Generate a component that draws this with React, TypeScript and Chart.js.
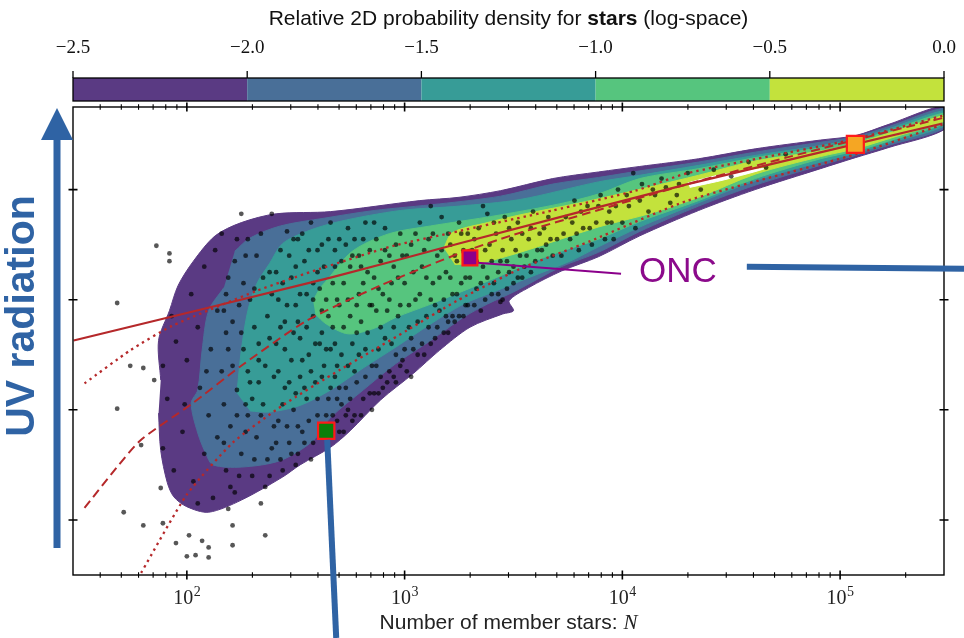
import React, { useEffect, useRef } from "react";
import { Chart, registerables } from "chart.js";

Chart.register(...registerables);

// Axis ranges: x = number of member stars N (log axis), y = UV radiation (unlabelled, log units)
const xMin = 30;
const xMax = 3e5;
const yMin = -0.5;
const yMax = 3.75;
const xMajorTicks = [1e2, 1e3, 1e4, 1e5];
const xTickExponents = ["2", "3", "4", "5"];
const yMajorTicks = [0, 1, 2, 3];

// Colour bar (relative 2D probability density, log-space)
const levelValues = [-2.5, -2.0, -1.5, -1.0, -0.5, 0.0];
const levelLabels = ["\u22122.5", "\u22122.0", "\u22121.5", "\u22121.0", "\u22120.5", "0.0"];
const levelColors = ["#5a3a83", "#496f98", "#379c97", "#56c57e", "#c3e23c"];

// Filled density contours, points as [log10 N, y]
const contourMinus25: [number, number][] = [
  [1.88, 1.27], [1.87, 1.63], [1.92, 1.9], [1.96, 2.13], [2.03, 2.35], [2.13, 2.58], [2.25, 2.7],
  [2.41, 2.78], [2.66, 2.8], [3.07, 2.9], [3.25, 2.93], [3.44, 2.99], [3.68, 3.1], [3.89, 3.16],
  [4.08, 3.21], [4.35, 3.28], [4.61, 3.37], [4.91, 3.45], [5.07, 3.49], [5.22, 3.59], [5.49, 3.76],
  [5.49, 3.56], [5.22, 3.38], [5.07, 3.29], [4.91, 3.19], [4.61, 3.0], [4.35, 2.81], [4.08, 2.58],
  [3.89, 2.39], [3.72, 2.26], [3.57, 2.11], [3.48, 1.99], [3.5, 1.9], [3.45, 1.87], [3.3, 1.75],
  [3.16, 1.54], [3.04, 1.33], [2.89, 1.09], [2.75, 0.81], [2.66, 0.66], [2.52, 0.5], [2.44, 0.39],
  [2.25, 0.18], [2.1, 0.07], [2.0, 0.12], [1.94, 0.21], [1.91, 0.34], [1.88, 0.63], [1.87, 0.97],
];
const contourMinus20: [number, number][] = [
  [2.22, 2.44], [2.29, 2.56], [2.43, 2.67], [2.63, 2.74], [2.86, 2.81], [3.16, 2.87], [3.44, 2.94],
  [3.68, 3.05], [3.89, 3.11], [4.08, 3.17], [4.35, 3.25], [4.61, 3.34], [4.91, 3.43], [5.07, 3.48],
  [5.22, 3.57], [5.49, 3.74], [5.49, 3.57], [5.22, 3.4], [5.07, 3.31], [4.91, 3.22], [4.61, 3.04],
  [4.35, 2.85], [4.08, 2.62], [3.89, 2.43], [3.72, 2.3], [3.51, 2.08], [3.38, 1.96], [3.27, 1.84],
  [3.12, 1.63], [2.96, 1.42], [2.81, 1.18], [2.66, 0.93], [2.58, 0.72], [2.43, 0.54], [2.25, 0.48],
  [2.12, 0.5], [2.09, 0.59], [2.05, 0.79], [2.02, 1.06], [2.05, 1.18], [2.07, 1.54], [2.1, 1.9],
  [2.17, 2.11],
];
const contourMinus15: [number, number][] = [
  [2.23, 1.15], [2.25, 1.54], [2.28, 1.9], [2.32, 2.14], [2.38, 2.33], [2.44, 2.51], [2.55, 2.62],
  [2.7, 2.71], [2.98, 2.81], [3.25, 2.85], [3.53, 2.91], [3.89, 3.07], [4.08, 3.13], [4.35, 3.22],
  [4.61, 3.31], [4.91, 3.4], [5.07, 3.46], [5.22, 3.55], [5.49, 3.72], [5.49, 3.59], [5.22, 3.42],
  [5.07, 3.33], [4.91, 3.25], [4.61, 3.08], [4.35, 2.88], [4.08, 2.66], [3.89, 2.48], [3.76, 2.35],
  [3.57, 2.2], [3.42, 2.08], [3.27, 1.96], [3.12, 1.78], [2.96, 1.57], [2.81, 1.38], [2.66, 1.18],
  [2.52, 1.04], [2.38, 0.98], [2.29, 0.99],
];
const contourMinus10: [number, number][] = [
  [2.58, 1.99], [2.61, 2.1], [2.64, 2.17], [2.76, 2.44], [2.93, 2.6], [3.12, 2.67], [3.25, 2.71],
  [3.44, 2.77], [3.71, 2.87], [3.89, 2.96], [4.08, 3.1], [4.35, 3.19], [4.61, 3.29], [4.91, 3.38],
  [5.07, 3.44], [5.22, 3.53], [5.49, 3.7], [5.49, 3.61], [5.22, 3.44], [5.07, 3.35], [4.91, 3.28],
  [4.61, 3.1], [4.35, 2.9], [4.08, 2.71], [3.89, 2.55], [3.72, 2.44], [3.57, 2.33], [3.42, 2.2],
  [3.27, 2.08], [3.12, 1.96], [2.96, 1.84], [2.86, 1.74], [2.74, 1.69], [2.64, 1.78], [2.59, 1.87],
];
const contourMinus05: [number, number][] = [
  [3.18, 2.47], [3.22, 2.61], [3.38, 2.7], [3.53, 2.77], [3.83, 2.89], [4.14, 3.03], [4.35, 3.13],
  [4.61, 3.26], [4.91, 3.35], [5.07, 3.42], [5.22, 3.51], [5.49, 3.68], [5.49, 3.63], [5.22, 3.46],
  [5.07, 3.37], [4.91, 3.3], [4.61, 3.14], [4.35, 2.93], [4.14, 2.79], [3.89, 2.66], [3.53, 2.43],
  [3.34, 2.33], [3.23, 2.32],
];
const contourAbove0: [number, number][] = [
  [4.3, 3.06], [4.44, 3.13], [4.65, 3.19], [4.47, 3.09], [4.31, 3.02],
];

// Individual star-forming regions (black dots), [log10 N, y]
const memberStars: [number, number][] = [
  [1.68, 1.97], [1.68, 1.01], [1.71, 0.07], [1.74, 1.4], [1.79, 0.68], [1.8, 1.38], [1.8, -0.05],
  [1.85, 1.27], [1.86, 2.49], [1.88, 0.29], [1.89, 1.4], [1.89, 0.65], [1.89, -0.03], [1.92, 2.42],
  [1.92, 2.35], [1.93, 1.85], [1.91, 1.1], [1.94, 0.45], [1.95, -0.21], [1.95, 1.62],
  [2.0, -0.33], [2.01, -0.14], [2.04, -0.32], [1.98, 0.8], [2.0, 1.45], [2.02, 2.05], [2.03, 0.35],
  [2.05, 1.75], [2.06, 1.2], [2.07, -0.19], [2.08, 0.6], [2.08, 2.3], [2.1, -0.25], [2.1, -0.34],
  [2.1, 0.95], [2.11, 1.55], [2.12, 0.2], [2.13, 2.45], [2.14, 1.9], [2.14, 0.75], [1.99, 1.05],
  [2.05, 0.15], [2.09, 1.35],
  [2.16, 2.6], [2.17, 1.05], [2.18, 0.45], [2.18, 1.7], [2.19, 2.2], [2.2, 0.85], [2.21, -0.23],
  [2.21, -0.05], [2.21, 1.4], [2.22, 0.25], [2.23, 1.18], [2.24, 1.95], [2.25, 2.78], [2.25, 0.6],
  [2.26, 1.55], [2.27, 2.4], [2.28, 0.95], [2.29, 1.25], [2.3, 0.4], [2.31, 2.1], [2.31, 1.75],
  [2.32, 0.75], [2.33, 1.45], [2.34, 2.6], [2.35, 1.05], [2.36, -0.14], [2.36, 0.3], [2.37, 1.85],
  [2.38, 2.25], [2.39, 2.78], [2.39, 0.65], [2.4, 1.3], [2.19, 0.1], [2.28, 2.55], [2.34, 0.15],
  [2.16, 1.35], [2.17, 0.7], [2.18, 2.05], [2.19, 1.55], [2.2, 0.3], [2.21, 1.8], [2.22, 2.35],
  [2.23, 0.95], [2.24, 0.4], [2.25, 1.7], [2.26, 2.15], [2.27, 0.8], [2.28, 1.35], [2.29, 2.0],
  [2.3, 1.1], [2.31, 0.55], [2.32, 2.4], [2.33, 1.6], [2.34, 0.95], [2.35, 2.2], [2.36, 1.4],
  [2.37, 0.55], [2.38, 1.65], [2.39, 2.05], [2.4, 0.85], [2.17, 1.9], [2.23, 2.55], [2.27, 1.05],
  [2.33, 1.25], [2.38, 0.4],
  [2.41, 1.6], [2.42, 2.0], [2.42, 0.9], [2.43, 2.45], [2.44, 0.45], [2.45, 1.2], [2.45, 1.8],
  [2.46, 2.62], [2.47, 0.7], [2.48, 1.45], [2.48, 2.2], [2.49, 1.0], [2.5, 1.95], [2.5, 0.5],
  [2.51, 2.55], [2.52, 1.65], [2.52, 1.3], [2.53, 0.8], [2.54, 2.35], [2.55, 1.1], [2.55, 2.05],
  [2.56, 1.5], [2.57, 0.55], [2.57, 2.7], [2.58, 1.85], [2.59, 1.25], [2.6, 0.95], [2.6, 2.25],
  [2.61, 1.6], [2.62, 2.5], [2.63, 0.75], [2.63, 1.4], [2.64, 2.0], [2.65, 1.1], [2.66, 2.7],
  [2.66, 0.75], [2.67, 1.75], [2.68, 2.3], [2.68, 1.3], [2.69, 0.9], [2.7, 1.95], [2.7, 2.55],
  [2.44, 1.05], [2.51, 0.6], [2.58, 2.15], [2.62, 1.9], [2.66, 1.55], [2.69, 1.1],
  [2.41, 2.25], [2.41, 0.7], [2.42, 1.35], [2.43, 1.75], [2.43, 0.55], [2.44, 2.15], [2.45, 1.55],
  [2.46, 0.85], [2.46, 1.95], [2.47, 2.4], [2.47, 1.25], [2.48, 0.6], [2.49, 1.7], [2.49, 2.55],
  [2.5, 1.15], [2.5, 2.3], [2.51, 0.85], [2.51, 1.8], [2.52, 2.05], [2.53, 1.45], [2.53, 2.6],
  [2.54, 0.7], [2.54, 1.2], [2.55, 1.75], [2.56, 2.45], [2.56, 0.9], [2.57, 1.35], [2.58, 2.0],
  [2.58, 0.7], [2.59, 1.6], [2.6, 2.45], [2.6, 1.1], [2.61, 0.85], [2.61, 2.1], [2.62, 1.3],
  [2.62, 1.7], [2.63, 2.3], [2.64, 0.95], [2.64, 1.55], [2.65, 2.55], [2.65, 1.85], [2.66, 1.2],
  [2.67, 0.95], [2.67, 2.15], [2.68, 1.6], [2.68, 2.45], [2.69, 1.4], [2.69, 2.0], [2.7, 0.8],
  [2.7, 1.2],
  [2.71, 1.5], [2.72, 2.15], [2.72, 0.8], [2.73, 1.2], [2.74, 2.65], [2.75, 1.85], [2.76, 0.9],
  [2.76, 2.4], [2.77, 1.35], [2.78, 1.7], [2.79, 2.05], [2.8, 0.95], [2.81, 2.55], [2.82, 1.55],
  [2.83, 2.25], [2.84, 1.15], [2.85, 1.0], [2.85, 1.95], [2.86, 2.7], [2.87, 1.4], [2.88, 2.1],
  [2.89, 1.75], [2.9, 1.2], [2.91, 2.45], [2.92, 1.25], [2.93, 2.0], [2.94, 1.6], [2.95, 2.3],
  [2.96, 1.25], [2.97, 1.85], [2.98, 2.6], [2.99, 1.45], [2.74, 1.0], [2.8, 2.3], [2.88, 1.15],
  [2.95, 1.3],
  [2.71, 2.35], [2.71, 1.05], [2.72, 1.75], [2.73, 2.5], [2.73, 0.95], [2.74, 1.4], [2.74, 2.0],
  [2.75, 1.1], [2.75, 2.3], [2.76, 1.6], [2.77, 2.55], [2.77, 0.95], [2.78, 1.95], [2.78, 1.25],
  [2.79, 2.4], [2.79, 1.5], [2.8, 1.8], [2.81, 1.1], [2.81, 2.15], [2.82, 2.7], [2.82, 1.3],
  [2.83, 1.7], [2.84, 2.45], [2.84, 1.95], [2.85, 1.4], [2.86, 2.2], [2.86, 1.15], [2.87, 1.9],
  [2.87, 2.55], [2.88, 1.55], [2.89, 2.35], [2.89, 1.3], [2.9, 2.05], [2.91, 1.65], [2.91, 2.65],
  [2.92, 1.9], [2.93, 1.35], [2.93, 2.4], [2.94, 2.15], [2.95, 1.75], [2.96, 2.5], [2.96, 1.5],
  [2.97, 2.2], [2.98, 1.4], [2.98, 1.95], [2.99, 2.4],
  [3.0, 2.15], [3.01, 1.35], [3.02, 1.75], [3.03, 2.5], [3.04, 1.55], [3.05, 2.0], [3.06, 1.5],
  [3.07, 2.7], [3.08, 2.3], [3.09, 1.5], [3.1, 1.85], [3.11, 2.55], [3.12, 1.6], [3.13, 2.15],
  [3.14, 1.65], [3.15, 2.4], [3.16, 1.9], [3.17, 2.75], [3.18, 1.7], [3.19, 2.25], [3.2, 1.7],
  [3.21, 2.5], [3.22, 2.05], [3.23, 1.8], [3.24, 2.35], [3.25, 1.85], [3.26, 2.6], [3.27, 1.85],
  [3.28, 2.2], [3.29, 1.95], [3.03, 1.3], [3.12, 2.85], [3.2, 1.8],
  [3.0, 1.55], [3.01, 2.4], [3.02, 1.95], [3.03, 1.65], [3.04, 2.25], [3.05, 2.6], [3.06, 1.8],
  [3.07, 2.05], [3.08, 1.6], [3.09, 2.45], [3.1, 2.2], [3.11, 1.75], [3.12, 2.0], [3.13, 2.6],
  [3.14, 1.95], [3.15, 1.75], [3.16, 2.2], [3.17, 2.45], [3.18, 2.0], [3.19, 1.85], [3.2, 2.6],
  [3.21, 2.2], [3.22, 1.85], [3.23, 2.4], [3.24, 2.05], [3.25, 2.7], [3.26, 2.15], [3.27, 2.45],
  [3.28, 1.95], [3.29, 2.6],
  [3.31, 2.45], [3.32, 1.95], [3.33, 2.1], [3.34, 2.65], [3.35, 1.9], [3.36, 2.3], [3.37, 2.0],
  [3.38, 2.78], [3.39, 2.5], [3.4, 2.05], [3.41, 2.15], [3.42, 2.6], [3.43, 2.25], [3.44, 2.35],
  [3.45, 2.0], [3.46, 2.75], [3.47, 2.1], [3.48, 2.25], [3.49, 2.55], [3.5, 2.15], [3.52, 2.7],
  [3.53, 2.4], [3.54, 2.2], [3.55, 2.3], [3.57, 2.55], [3.58, 2.25], [3.59, 2.8], [3.6, 2.35],
  [3.62, 2.6], [3.63, 2.45], [3.65, 2.5], [3.66, 2.75], [3.68, 2.4], [3.7, 2.55], [3.36, 2.85],
  [3.44, 1.98], [3.51, 2.45],
  [3.3, 2.2], [3.32, 2.55], [3.33, 2.35], [3.35, 2.15], [3.37, 2.45], [3.38, 2.2], [3.4, 2.35],
  [3.41, 2.7], [3.43, 2.05], [3.45, 2.45], [3.47, 2.35], [3.48, 2.65], [3.5, 2.3], [3.52, 2.2],
  [3.54, 2.6], [3.56, 2.4], [3.58, 2.65], [3.61, 2.45], [3.64, 2.65], [3.67, 2.55],
  [3.72, 2.4], [3.74, 2.75], [3.76, 2.55], [3.78, 2.9], [3.8, 2.45], [3.82, 2.65], [3.84, 2.85],
  [3.86, 2.5], [3.88, 2.7], [3.9, 2.95], [3.92, 2.55], [3.94, 2.8], [3.96, 2.55], [3.98, 3.0],
  [4.0, 2.7], [4.03, 2.85], [4.06, 2.65], [4.09, 3.05], [4.12, 2.8], [4.15, 2.95], [4.18, 3.1],
  [4.22, 2.88], [4.26, 3.05], [4.3, 3.15], [3.79, 2.6], [3.95, 2.7], [4.05, 3.15],
  [3.73, 2.6], [3.77, 2.7], [3.81, 2.8], [3.85, 2.65], [3.89, 2.85], [3.93, 2.7], [3.97, 2.85],
  [4.02, 2.95], [4.08, 2.9], [4.14, 3.0], [4.2, 3.02], [4.25, 2.95],
  [4.36, 3.0], [4.42, 3.18], [4.5, 3.12], [4.58, 3.25], [4.66, 3.2], [4.75, 3.32],
];

// Model relations (red lines), [log10 N, y]
const medianRelation: [number, number][] = [
  [1.48, 1.63], [2.66, 2.2], [3.25, 2.51], [4.3, 3.05], [5.47, 3.6],
];
const dashedRelation: [number, number][] = [
  [1.53, 0.11], [1.78, 0.71], [2.02, 1.05], [2.25, 1.4], [2.55, 1.81], [2.89, 2.13], [3.25, 2.42],
  [3.5, 2.59], [3.83, 2.78], [4.3, 3.05], [4.81, 3.32], [5.47, 3.65],
];
const upperDotted: [number, number][] = [
  [1.53, 1.24], [1.74, 1.54], [1.93, 1.76], [2.32, 2.08], [2.61, 2.28], [2.95, 2.49], [3.22, 2.61],
  [3.68, 2.81], [4.06, 2.99], [4.3, 3.15], [5.07, 3.46], [5.47, 3.67],
];
const lowerDotted: [number, number][] = [
  [1.79, -0.48], [2.0, 0.23], [2.21, 0.7], [2.44, 1.04], [2.7, 1.36], [3.01, 1.72], [3.24, 1.99],
  [3.53, 2.28], [3.85, 2.53], [4.3, 2.9], [5.07, 3.32], [5.47, 3.59],
];

// Highlighted clusters
const oncPoint: [number, number] = [3.3, 2.38];
const oncLeader: [number, number][] = [[3.335, 2.335], [3.994, 2.235]];
const greenCluster: [number, number] = [2.64, 0.81];
const orangeCluster: [number, number] = [5.07, 3.41];

const toXY = (pts: [number, number][]) => pts.map(([lx, y]) => ({ x: Math.pow(10, lx), y }));

const BLUE = "#2f63a4";
const RED = "#b5282a";

export default function App() {
  const ref = useRef<HTMLCanvasElement>(null);

  useEffect(() => {
    const canvas = ref.current;
    if (!canvas) return;

    const contour = (pts: [number, number][], color: string, order: number) => ({
      type: "line" as const,
      data: toXY(pts),
      showLine: true,
      fill: "shape",
      backgroundColor: color,
      borderColor: color,
      borderWidth: 1,
      pointRadius: 0,
      tension: 0.3,
      order,
    });

    const relation = (pts: [number, number][], dash: number[], width: number, order: number) => ({
      type: "line" as const,
      data: toXY(pts),
      showLine: true,
      fill: false,
      borderColor: RED,
      borderWidth: width,
      borderDash: dash,
      pointRadius: 0,
      tension: 0.2,
      order,
    });

    const marker = (p: [number, number], fillColor: string, radius: number, order: number) => ({
      type: "line" as const,
      data: toXY([p]),
      showLine: false,
      pointStyle: "rect",
      pointRadius: radius,
      pointBackgroundColor: fillColor,
      pointBorderColor: "#ff1a1a",
      pointBorderWidth: 2.2,
      order,
    });

    const decor = {
      id: "decor",
      afterDraw(chart: any) {
        const { ctx, chartArea: a, scales } = chart;
        const xs = scales.x;
        const ys = scales.y;
        ctx.save();

        // ---------- colour bar ----------
        const cbTop = 78;
        const cbBottom = 101;
        const vToPx = (v: number) =>
          a.left + ((v - levelValues[0]) / (levelValues[levelValues.length - 1] - levelValues[0])) * (a.right - a.left);
        for (let i = 0; i < levelColors.length; i++) {
          const x0 = vToPx(levelValues[i]);
          const x1 = vToPx(levelValues[i + 1]);
          ctx.fillStyle = levelColors[i];
          ctx.fillRect(x0, cbTop, x1 - x0, cbBottom - cbTop);
        }
        ctx.strokeStyle = "#000";
        ctx.lineWidth = 1.3;
        ctx.strokeRect(a.left, cbTop, a.right - a.left, cbBottom - cbTop);
        ctx.fillStyle = "#111";
        ctx.font = '19px "Liberation Serif"';
        ctx.textAlign = "center";
        ctx.textBaseline = "middle";
        levelValues.forEach((v, i) => {
          const px = vToPx(v);
          ctx.beginPath();
          ctx.moveTo(px, cbTop);
          ctx.lineTo(px, cbTop - 7);
          ctx.stroke();
          ctx.fillText(levelLabels[i], px, 48);
        });

        // title with bold word
        const parts = [
          { t: "Relative 2D probability density for ", f: '21px "Liberation Sans"' },
          { t: "stars", f: 'bold 21px "Liberation Sans"' },
          { t: " (log-space)", f: '21px "Liberation Sans"' },
        ];
        let total = 0;
        parts.forEach((p) => {
          ctx.font = p.f;
          total += ctx.measureText(p.t).width;
        });
        let tx = (a.left + a.right) / 2 - total / 2;
        ctx.textAlign = "left";
        parts.forEach((p) => {
          ctx.font = p.f;
          ctx.fillText(p.t, tx, 19);
          tx += ctx.measureText(p.t).width;
        });

        // ---------- axes frame ----------
        ctx.strokeStyle = "#000";
        ctx.lineWidth = 1.4;
        ctx.strokeRect(a.left, a.top, a.right - a.left, a.bottom - a.top);

        // x ticks (log, major + minor), bottom and top, crossing the spine
        for (let e = 1; e <= 5; e++) {
          for (let k = 1; k <= 9; k++) {
            const v = k * Math.pow(10, e);
            if (v <= xMin || v >= xMax) continue;
            const px = xs.getPixelForValue(v);
            const len = k === 1 ? 4.5 : 2.8;
            ctx.lineWidth = k === 1 ? 1.6 : 1.1;
            ctx.beginPath();
            ctx.moveTo(px, a.bottom - len);
            ctx.lineTo(px, a.bottom + len);
            ctx.moveTo(px, a.top - len);
            ctx.lineTo(px, a.top + len);
            ctx.stroke();
          }
        }
        // y ticks, left and right
        ctx.lineWidth = 1.6;
        yMajorTicks.forEach((v) => {
          const py = ys.getPixelForValue(v);
          ctx.beginPath();
          ctx.moveTo(a.left - 4.5, py);
          ctx.lineTo(a.left + 4.5, py);
          ctx.moveTo(a.right - 4.5, py);
          ctx.lineTo(a.right + 4.5, py);
          ctx.stroke();
        });

        // x tick labels 10^k
        ctx.fillStyle = "#222";
        ctx.textBaseline = "alphabetic";
        xMajorTicks.forEach((v, i) => {
          const px = xs.getPixelForValue(v);
          ctx.font = '20px "Liberation Serif"';
          const wb = ctx.measureText("10").width;
          ctx.font = '14px "Liberation Serif"';
          const we = ctx.measureText(xTickExponents[i]).width;
          const x0 = px - (wb + we) / 2;
          ctx.textAlign = "left";
          ctx.font = '20px "Liberation Serif"';
          ctx.fillText("10", x0, 604);
          ctx.font = '14px "Liberation Serif"';
          ctx.fillText(xTickExponents[i], x0 + wb + 0.5, 596);
        });

        // x axis title
        const lab1 = "Number of member stars: ";
        ctx.font = '21px "Liberation Sans"';
        const w1 = ctx.measureText(lab1).width;
        ctx.font = 'italic 21px "Liberation Serif"';
        const w2 = ctx.measureText("N").width;
        const lx = (a.left + a.right) / 2 - (w1 + w2) / 2;
        ctx.textBaseline = "middle";
        ctx.font = '21px "Liberation Sans"';
        ctx.fillText(lab1, lx, 623);
        ctx.font = 'italic 21px "Liberation Serif"';
        ctx.fillText("N", lx + w1, 623);

        // ---------- ONC label ----------
        const leaderEnd = oncLeader[oncLeader.length - 1];
        const lxp = xs.getPixelForValue(Math.pow(10, leaderEnd[0]));
        const lyp = ys.getPixelForValue(leaderEnd[1]);
        ctx.fillStyle = "#8b0a8b";
        ctx.font = '35px "Liberation Sans"';
        ctx.textAlign = "left";
        ctx.textBaseline = "middle";
        const oncX = lxp + 18;
        ctx.fillText("ONC", oncX, lyp - 1);
        const oncW = ctx.measureText("ONC").width;

        // ---------- blue presentation overlays ----------
        ctx.strokeStyle = BLUE;
        ctx.fillStyle = BLUE;
        ctx.lineCap = "butt";
        ctx.lineWidth = 6;
        ctx.beginPath();
        ctx.moveTo(oncX + oncW + 30, lyp - 7);
        ctx.lineTo(chart.width, lyp - 5);
        ctx.stroke();
        const gx = xs.getPixelForValue(Math.pow(10, greenCluster[0]));
        const gy = ys.getPixelForValue(greenCluster[1]);
        ctx.beginPath();
        ctx.moveTo(gx + 1, gy + 9);
        ctx.lineTo(gx + 10, chart.height);
        ctx.stroke();
        const ax = a.left - 16;
        ctx.lineWidth = 7;
        ctx.beginPath();
        ctx.moveTo(ax, a.bottom - 27);
        ctx.lineTo(ax, a.top + 30);
        ctx.stroke();
        ctx.beginPath();
        ctx.moveTo(ax, a.top + 1);
        ctx.lineTo(ax - 16, a.top + 33);
        ctx.lineTo(ax + 16, a.top + 33);
        ctx.closePath();
        ctx.fill();
        ctx.save();
        ctx.translate(23, (a.top + a.bottom) / 2 - 25);
        ctx.rotate(-Math.PI / 2);
        ctx.font = 'bold 41px "Liberation Sans"';
        ctx.textAlign = "center";
        ctx.textBaseline = "middle";
        ctx.fillText("UV radiation", 0, 0);
        ctx.restore();

        ctx.restore();
      },
    };

    const chart = new Chart(canvas, {
      type: "line",
      data: {
        datasets: [
          marker(oncPoint, "#8b008b", 10.5, 1),
          marker(greenCluster, "#0a7f0a", 11.5, 2),
          marker(orangeCluster, "#f5a623", 12, 3),
          {
            type: "line",
            data: toXY(oncLeader),
            showLine: true,
            fill: false,
            borderColor: "#8b008b",
            borderWidth: 2,
            pointRadius: 0,
            order: 5,
          },
          relation(medianRelation, [], 2.2, 10),
          relation(dashedRelation, [9, 5], 2, 11),
          relation(upperDotted, [2.4, 4], 2.3, 12),
          relation(lowerDotted, [2.4, 4], 2.3, 13),
          {
            type: "line",
            data: toXY(memberStars),
            showLine: false,
            pointRadius: 2.4,
            pointBackgroundColor: "rgba(0,0,0,0.66)",
            pointBorderWidth: 0,
            order: 20,
          },
          contour(contourAbove0, "#ffffff", 40),
          contour(contourMinus05, levelColors[4], 41),
          contour(contourMinus10, levelColors[3], 42),
          contour(contourMinus15, levelColors[2], 43),
          contour(contourMinus20, levelColors[1], 44),
          contour(contourMinus25, levelColors[0], 45),
        ] as any,
      },
      options: {
        responsive: false,
        animation: false,
        events: [],
        layout: { padding: { left: 73, top: 107, right: 20, bottom: 63 }, autoPadding: false },
        plugins: { legend: { display: false }, tooltip: { enabled: false } },
        scales: {
          x: { type: "logarithmic", min: xMin, max: xMax, display: false },
          y: { type: "linear", min: yMin, max: yMax, display: false },
        },
      } as any,
      plugins: [decor],
    });

    return () => chart.destroy();
  }, []);

  return (
    <div style={{ position: "absolute", left: 0, top: 0, width: 964, height: 638, background: "#fff" }}>
      <canvas ref={ref} width={964} height={638} style={{ display: "block" }} />
    </div>
  );
}
